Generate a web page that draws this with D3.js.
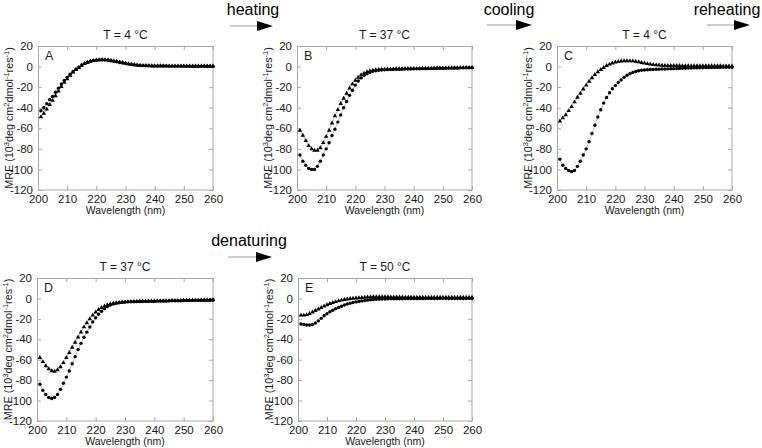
<!DOCTYPE html>
<html><head><meta charset="utf-8">
<script src="https://cdn.jsdelivr.net/npm/d3@7"></script>
<style>
html,body{margin:0;padding:0;background:#fff;}
svg{display:block;font-family:"Liberation Sans",Arial,sans-serif;}
</style></head>
<body><svg id="chart" width="762" height="448"></svg>
<script>
// ---------------- data ----------------
const wavelengths = [201,202,203,204,205,206,207,208,209,210,211,212,213,214,215,216,217,218,219,220,
221,222,223,224,225,226,227,228,229,230,231,232,233,234,235,236,237,238,239,240,
241,242,243,244,245,246,247,248,249,250,251,252,253,254,255,256,257,258,259,260];
const xTicks = [200,210,220,230,240,250,260];
const yTicks = [20,0,-20,-40,-60,-80,-100,-120];
const panelLetters = ["A","B","C","D","E"];
const panelTitles = ["T = 4 °C","T = 37 °C","T = 4 °C","T = 37 °C","T = 50 °C"];
const stepLabels = ["heating","cooling","reheating","denaturing"];

const circlesA = [-43,-40,-36,-32,-29,-25,-21,-17,-13.5,-10.5,
-7.5,-5,-2.5,-0.5,1.5,3,4.3,5.2,5.8,6.2,
6.4,6.4,6.3,6.0,5.6,5.1,4.6,4.0,3.4,2.9,
2.4,2.0,1.6,1.3,1.1,0.9,0.8,0.7,0.6,0.6,
0.5,0.5,0.5,0.5,0.4,0.4,0.4,0.4,0.4,0.4,
0.4,0.3,0.3,0.3,0.3,0.3,0.3,0.3,0.3,0.3];
const trianglesA = [-49,-45.5,-41.5,-37,-33,-28.5,-24,-19.5,-15.5,-12,
-8.5,-5.5,-3,-1,1,2.7,4.1,5.1,5.8,6.3,
6.6,6.7,6.6,6.4,6.0,5.5,5.0,4.4,3.8,3.2,
2.7,2.2,1.8,1.5,1.2,1.0,0.9,0.8,0.7,0.7,
0.6,0.6,0.6,0.5,0.5,0.5,0.5,0.5,0.5,0.5,
0.4,0.4,0.4,0.4,0.4,0.4,0.4,0.4,0.4,0.4];
const circlesB = [-86,-92,-96,-99,-100,-100,-97,-92,-86,-80,
-74,-67,-61,-54,-47,-40,-34,-28,-23,-18,
-14,-11,-8.5,-7,-5.5,-4.6,-4.0,-3.6,-3.3,-3.1,
-3.0,-2.9,-2.8,-2.7,-2.6,-2.5,-2.4,-2.4,-2.3,-2.2,
-2.2,-2.1,-2.0,-2.0,-1.9,-1.8,-1.8,-1.7,-1.7,-1.6,
-1.6,-1.5,-1.5,-1.4,-1.4,-1.3,-1.3,-1.2,-1.2,-1.2];
const trianglesB = [-62,-67,-72,-77,-80,-81.5,-81.5,-79,-74,-68,
-62,-55,-48,-42,-36,-31,-26,-21,-17,-13.5,
-10.5,-8.2,-6.5,-5.2,-4.3,-3.7,-3.3,-3.0,-2.8,-2.7,
-2.6,-2.5,-2.4,-2.3,-2.3,-2.2,-2.1,-2.1,-2.0,-2.0,
-1.9,-1.9,-1.8,-1.8,-1.7,-1.7,-1.6,-1.6,-1.5,-1.5,
-1.4,-1.4,-1.3,-1.3,-1.3,-1.2,-1.2,-1.1,-1.1,-1.1];
const circlesC = [-90,-96,-99,-101,-102,-101,-97,-92,-86,-80,
-73,-65,-57,-49,-42,-35.5,-30,-25.5,-21.5,-18.5,
-15.5,-13,-10.5,-8.5,-7,-5.8,-4.8,-4.1,-3.6,-3.3,
-3.1,-2.9,-2.8,-2.6,-2.5,-2.4,-2.3,-2.2,-2.1,-2.0,
-1.9,-1.8,-1.7,-1.6,-1.5,-1.4,-1.3,-1.3,-1.2,-1.1,
-1.0,-1.0,-0.9,-0.9,-0.8,-0.8,-0.7,-0.7,-0.6,-0.6];
const trianglesC = [-53,-50,-47,-43,-39,-34.5,-30,-26,-22,-18,
-14.5,-11,-8,-5.3,-3,-1,0.8,2.2,3.3,4.2,
4.8,5.2,5.5,5.6,5.6,5.4,5.0,4.5,3.9,3.3,
2.7,2.2,1.8,1.5,1.3,1.1,1.0,0.9,0.9,0.8,
0.8,0.8,0.7,0.7,0.7,0.7,0.7,0.7,0.6,0.6,
0.6,0.6,0.6,0.6,0.6,0.6,0.5,0.5,0.5,0.5];
const circlesD = [-84,-90,-94,-97,-98,-97,-94,-89,-83,-77,
-71,-64,-57,-50,-44,-38,-33,-28,-23,-19,
-15.5,-12.5,-10,-8,-6.5,-5.5,-4.8,-4.3,-3.9,-3.6,
-3.4,-3.3,-3.2,-3.1,-3.0,-2.9,-2.9,-2.8,-2.8,-2.7,
-2.6,-2.6,-2.5,-2.5,-2.4,-2.3,-2.3,-2.2,-2.2,-2.1,
-2.0,-2.0,-1.9,-1.9,-1.8,-1.8,-1.7,-1.7,-1.6,-1.6];
const trianglesD = [-58,-62,-66,-69,-71,-71.5,-70,-67,-63,-58,
-53,-48,-43,-38,-33,-28,-24,-20,-16.5,-13.5,
-11,-9,-7.5,-6.3,-5.5,-4.8,-4.3,-4.0,-3.7,-3.5,
-3.3,-3.2,-3.1,-3.0,-2.9,-2.8,-2.8,-2.7,-2.7,-2.6,
-2.5,-2.5,-2.4,-2.4,-2.3,-2.2,-2.2,-2.1,-2.1,-2.0,
-2.0,-1.9,-1.9,-1.8,-1.8,-1.7,-1.7,-1.6,-1.6,-1.5];
const circlesE = [-25,-25.5,-26,-26,-25.5,-24,-22,-19.5,-17,-15,
-13,-11.5,-10,-8.8,-7.6,-6.5,-5.5,-4.7,-4,-3.4,
-2.9,-2.4,-2,-1.7,-1.4,-1.1,-0.9,-0.7,-0.6,-0.5,
-0.4,-0.4,-0.3,-0.3,-0.3,-0.3,-0.2,-0.2,-0.2,-0.2,
-0.2,-0.2,-0.2,-0.1,-0.1,-0.1,-0.1,-0.1,-0.1,-0.1,
-0.1,-0.1,-0.1,0,0,0,0,0,0,0];
const trianglesE = [-16.5,-16.5,-16,-15,-13.5,-12,-10.5,-9,-7.5,-6.3,
-5.2,-4.2,-3.3,-2.5,-1.8,-1.2,-0.7,-0.3,0,0.3,
0.6,0.8,1.0,1.2,1.3,1.4,1.5,1.5,1.5,1.4,
1.4,1.3,1.3,1.2,1.2,1.2,1.1,1.1,1.1,1.1,
1.0,1.0,1.0,1.0,1.0,1.0,1.0,1.0,1.0,1.0,
1.0,1.0,1.0,1.0,1.0,1.0,1.0,1.0,1.0,1.0];

const circleSeries = [circlesA, circlesB, circlesC, circlesD, circlesE];
const triangleSeries = [trianglesA, trianglesB, trianglesC, trianglesD, trianglesE];

// ---------------- layout ----------------
const panelBoxes = [
  {x:38, y:46, w:175, h:144},
  {x:297, y:46, w:175, h:144},
  {x:557, y:46, w:175, h:144},
  {x:37, y:278, w:176, h:143},
  {x:298, y:278, w:174, h:143}
];
const arrowSpecs = [
  {tx:253, ty:15, x0:230, x1:273, y:26},
  {tx:509, ty:15, x0:487, x1:532, y:25},
  {tx:727, ty:15, x0:707, x1:750, y:25},
  {tx:249, ty:246, x0:228, x1:272, y:257}
];

const svg = d3.select("#chart");
const frameColor = "#a8a8a8";
const textColor = "#1a1a1a";

panelBoxes.forEach((b, i) => {
  const g = svg.append("g").attr("transform", `translate(${b.x},${b.y})`);
  const x = d3.scaleLinear().domain([200, 260]).range([0, b.w]);
  const y = d3.scaleLinear().domain([-120, 20]).range([b.h, 0]);

  // axes with inward ticks
  const ax = g.append("g").attr("transform", `translate(0,${b.h})`)
    .call(d3.axisBottom(x).tickValues(xTicks).tickSize(-4).tickPadding(4.5).tickFormat(d3.format("d")));
  const ay = g.append("g")
    .call(d3.axisLeft(y).tickValues(yTicks).tickSize(-4).tickPadding(5).tickFormat(d => d));
  const at = g.append("g")
    .call(d3.axisTop(x).tickValues(xTicks).tickSize(-4).tickFormat(""));
  const ar = g.append("g").attr("transform", `translate(${b.w},0)`)
    .call(d3.axisRight(y).tickValues(yTicks).tickSize(-4).tickFormat(""));
  [ax, ay, at, ar].forEach(a => {
    a.select(".domain").remove();
    a.selectAll(".tick line").attr("stroke", frameColor).attr("stroke-width", 1);
    a.selectAll(".tick text").attr("fill", textColor).attr("font-size", 11.5)
      .attr("font-family", '"Liberation Sans",Arial,sans-serif');
  });
  ax.selectAll(".tick text").attr("dy", "0.71em");

  g.append("rect").attr("x", 0.5).attr("y", 0.5).attr("width", b.w - 0.5).attr("height", b.h - 0.5)
    .attr("fill", "none").attr("stroke", frameColor).attr("stroke-width", 1);

  // series
  const circ = circleSeries[i], tri = triangleSeries[i];
  const line = d3.line().x((d, k) => x(wavelengths[k])).y(d => y(d));
  g.append("path").attr("d", line(circ)).attr("fill", "none").attr("stroke", "#8c8c8c").attr("stroke-width", 0.6);
  g.append("path").attr("d", line(tri)).attr("fill", "none").attr("stroke", "#8c8c8c").attr("stroke-width", 0.6);

  const triSym = d3.symbol().type(d3.symbolTriangle).size(9);
  g.selectAll(".tri").data(tri).join("path").attr("class", "tri")
    .attr("transform", (d, k) => `translate(${x(wavelengths[k])},${y(d)})`)
    .attr("d", triSym).attr("fill", "#000");
  g.selectAll(".circ").data(circ).join("circle").attr("class", "circ")
    .attr("cx", (d, k) => x(wavelengths[k])).attr("cy", d => y(d))
    .attr("r", 1.7).attr("fill", "#000");

  // panel letter
  g.append("text").attr("x", 7).attr("y", 14).attr("font-size", 12.5).attr("fill", textColor)
    .text(panelLetters[i]);
  // title
  g.append("text").attr("x", b.w / 2).attr("y", -7).attr("text-anchor", "middle")
    .attr("font-size", 12).attr("fill", textColor).text(panelTitles[i]);
  // x-axis title
  g.append("text").attr("x", b.w / 2).attr("y", b.h + 23.5).attr("text-anchor", "middle")
    .attr("font-size", 10.5).attr("fill", textColor).text("Wavelength (nm)");
  // y-axis title
  const yt = g.append("text")
    .attr("transform", `translate(-25.5,${b.h / 2}) rotate(-90)`)
    .attr("text-anchor", "middle").attr("font-size", 10.8).attr("fill", textColor);
  yt.append("tspan").text("MRE (10");
  yt.append("tspan").attr("dy", -4).attr("font-size", 7.5).text("3");
  yt.append("tspan").attr("dy", 4).text("deg cm");
  yt.append("tspan").attr("dy", -4).attr("font-size", 7.5).text("2");
  yt.append("tspan").attr("dy", 4).text("dmol");
  yt.append("tspan").attr("dy", -4).attr("font-size", 7.5).text("-1");
  yt.append("tspan").attr("dy", 4).text("res");
  yt.append("tspan").attr("dy", -4).attr("font-size", 7.5).text("-1");
  yt.append("tspan").attr("dy", 4).text(")");
});

// step arrows
arrowSpecs.forEach((a, i) => {
  svg.append("text").attr("x", a.tx).attr("y", a.ty).attr("text-anchor", "middle")
    .attr("font-size", 16).attr("fill", "#000").text(stepLabels[i]);
  svg.append("line").attr("x1", a.x0).attr("x2", a.x1 - 14).attr("y1", a.y).attr("y2", a.y)
    .attr("stroke", "#9a9a9a").attr("stroke-width", 1);
  const p = d3.path();
  p.moveTo(a.x1 - 16, a.y - 5); p.lineTo(a.x1, a.y); p.lineTo(a.x1 - 16, a.y + 5); p.closePath();
  svg.append("path").attr("d", p.toString()).attr("fill", "#000");
});
</script></body></html>
